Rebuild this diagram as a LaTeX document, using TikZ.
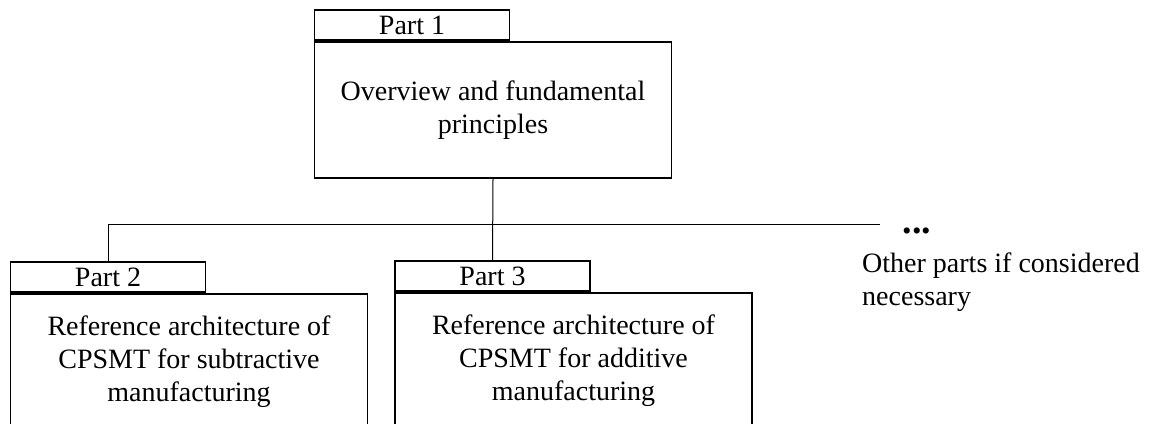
\documentclass[tikz,border=0pt]{standalone}
\usepackage{fontspec}
\setmainfont{Liberation Serif}
\usetikzlibrary{positioning}
\begin{document}
\begin{tikzpicture}[x=1pt,y=-1pt,
	partbox/.style={draw,line width=1.8pt,minimum width=357pt,minimum height=136pt,align=center,inner sep=0pt},
	parttab/.style={draw,line width=1.8pt,minimum width=195pt,minimum height=30pt,inner sep=0pt,anchor=south west},
	bus/.style={line width=1pt}]
	\useasboundingbox (0,0) rectangle (1155,423);
	\clip (0,0) rectangle (1155,423);
	\fontsize{28pt}{33pt}\selectfont
	% top part
	\node[partbox] (box1) at (493,110) {Overview and fundamental\\principles};
	\node[parttab] (tab1) at (box1.north west) {Part 1};
	% lower parts
	\node[partbox] (box2) at (189,362) {Reference architecture of\\CPSMT for subtractive\\manufacturing};
	\node[parttab] (tab2) at (box2.north west) {Part 2};
	\node[partbox] (box3) at (573.5,361) {Reference architecture of\\CPSMT for additive\\manufacturing};
	\node[parttab] (tab3) at (box3.north west) {Part 3};
	% others
	\node (dots) at (917,231) {\fontsize{38pt}{38pt}\selectfont\textbf{...}};
	\node[anchor=west,align=left,inner sep=0pt] (others) at (862,282) {Other parts if considered\\necessary};
	\coordinate (busend) at (880,224);
	\draw[bus] (box1.south) -- (tab3.north);
	\draw[bus] (tab2.north) |- (busend);
\end{tikzpicture}
\end{document}
